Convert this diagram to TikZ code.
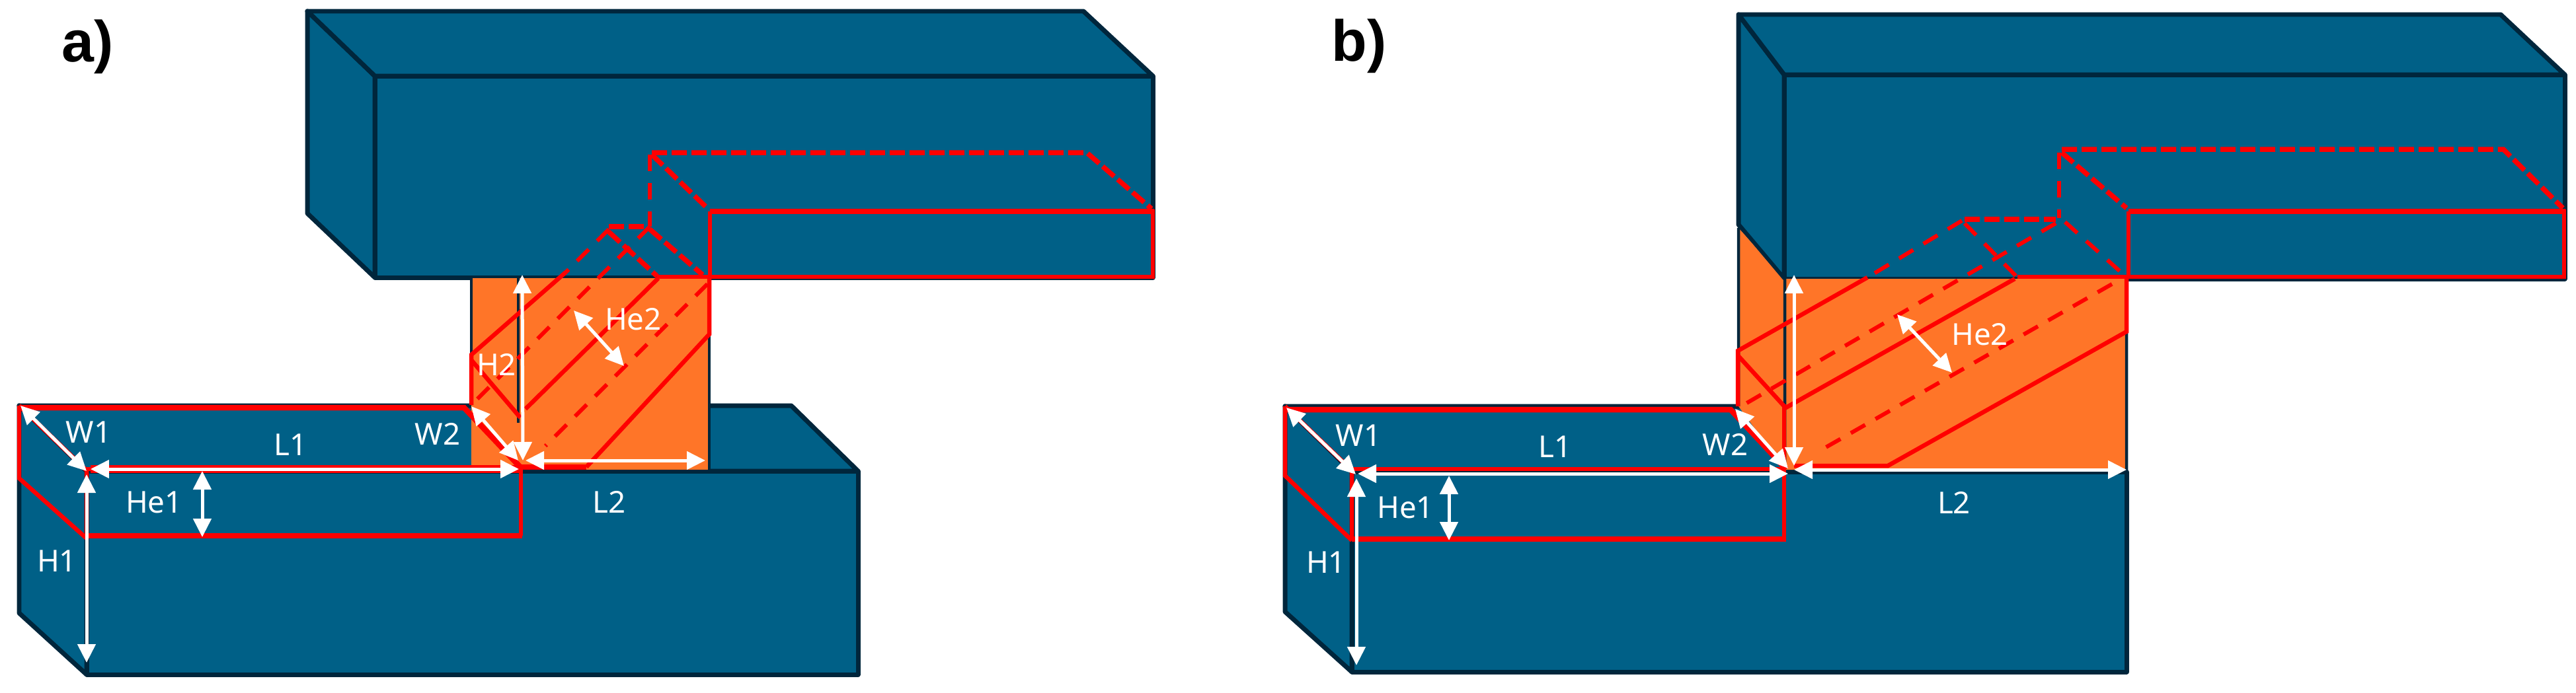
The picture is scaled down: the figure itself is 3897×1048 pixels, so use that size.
\documentclass[tikz,border=0pt]{standalone}
\usepackage{fontspec}
\setmainfont{Noto Sans}
\newfontfamily\tagfont{Liberation Sans}
\usetikzlibrary{arrows.meta}
\definecolor{bl}{HTML}{006087}
\definecolor{dk}{HTML}{00263C}
\definecolor{og}{HTML}{FF7528}
\definecolor{rd}{HTML}{FF0000}
\tikzset{
 face/.style={fill=bl,draw=dk,line width=0.14cm,line join=round},
 orange/.style={fill=og,draw=none},
 edge/.style={draw=dk,line width=0.09cm},
 redT/.style={draw=rd,line width=0.17cm,line join=miter},
 redM/.style={draw=rd,line width=0.13cm,line join=miter},
 dashT/.style={draw=rd,line width=0.15cm,dash pattern=on 0.46cm off 0.14cm},
 dashM/.style={draw=rd,line width=0.12cm,dash pattern=on 0.5cm off 0.36cm},
 dim/.style={draw=white,line width=0.1cm,{Triangle[length=0.56cm,width=0.54cm]}-{Triangle[length=0.56cm,width=0.54cm]}},
 lab/.style={text=white,inner sep=0pt,font=\fontsize{26}{30}\selectfont},
 tag/.style={text=black,inner sep=0pt,anchor=base west,font=\tagfont\fontsize{50}{56}\selectfont\bfseries}
}
\begin{document}
\begin{tikzpicture}[x=0.02cm,y=-0.02cm]
\useasboundingbox (0,0) rectangle (3897,1048);
% ---------- panel a
\path[face] (465,17)--(567,115)--(567,420)--(465,323)--cycle;
\path[face] (465,17)--(1639,17)--(1744,115)--(567,115)--cycle;
\path[face] (567,115)--(1744,115)--(1744,420)--(567,420)--cycle;
\path[face] (29,614)--(1197,614)--(1298,713)--(131,713)--cycle;
\path[face] (29,614)--(131,713)--(131,1021)--(29,928)--cycle;
\path[face] (131,713)--(1298,713)--(1298,1021)--(131,1021)--cycle;
\path[orange] (713,421) rectangle (1073,711);
\path[edge] (713,421)--(713,613) (1073,506)--(1073,711) (784,421)--(784,640);
% red, solid
\path[redT] (29,617)--(702,617)--(788,708);
\path[redT] (131,811)--(790,811);
\path[redM] (131,710)--(790,710);
\path[redM] (788,811)--(788,706);
\path[redM] (29,614)--(29,724)--(131,815);
\path[redM] (29,614)--(131,712) (131,712)--(131,811);
\path[redM] (1074,320)--(1744,320)--(1744,419)--(994,419);
\path[redM] (1074,320)--(1074,419);
\path[redT] (1074,320)--(1746,320);
\path[redM] (1073,419)--(1073,506)--(887,707);
\path[redT] (787,707)--(887,707);
\path[redM] (996,421)--(795,619);
\path[redM] (856,412)--(713,537)--(713,613);
\path[redM] (713,545)--(787,632);
% red, dashed
\path[dashT] (986,231)--(1644,231)--(1742,316);
\path[dashT] (986,234)--(1072,317);
\path[dashM] (983,234)--(983,343);
\path[dashT] (921,343)--(983,343);
\path[dashT] (983,347)--(1063,416);
\path[dashT] (921,351)--(994,418);
\path[dashM] (921,347)--(856,412);
\path[dashM] (983,343)--(713,613);
\path[dashM] (1070,430)--(825,675);
% dimensions
\coordinate (a1) at (31,614); \coordinate (a2) at (131,713);
\coordinate (a3) at (137,710); \coordinate (a4) at (785,710);
\coordinate (a5) at (131,718); \coordinate (a6) at (131,1003);
\coordinate (a7) at (306,713); \coordinate (a8) at (306,813);
\coordinate (a9) at (713,615); \coordinate (a10) at (784,697);
\coordinate (a11) at (791,697); \coordinate (a12) at (790,416);
\coordinate (a13) at (795,697); \coordinate (a14) at (1067,697);
\coordinate (a15) at (868,470); \coordinate (a16) at (944,554);
\draw[draw=rd,line width=0.24cm] (137,710)--(785,710);
\path[dim] (a1)--(a2);
\path[dim] (a3)--(a4);
\path[dim] (a5)--(a6);
\path[dim] (a7)--(a8);
\path[dim] (a9)--(a10);
\path[dim] (a11)--(a12);
\path[dim] (a13)--(a14);
\path[dim] (a15)--(a16);
\node[lab] (aW1) at (134,654) {W1};
\node[lab] (aL1) at (440,673) {L1};
\node[lab] (aW2) at (662,657) {W2};
\node[lab] (aHe1) at (233,760) {He1};
\node[lab] (aL2) at (922,760) {L2};
\node[lab] (aH1) at (86,849) {H1};
\node[lab] (aH2) at (751,552) {H2};
\node[lab] (aHe2) at (958,483) {He2};
\node[tag] (atag) at (93,93) {a)};
% ---------- panel b
\path[face] (2630,22)--(2699,113)--(2699,422)--(2630,340)--cycle;
\path[face] (2630,22)--(3783,22)--(3880,113)--(2699,113)--cycle;
\path[face] (2699,113)--(3880,113)--(3880,422)--(2699,422)--cycle;
\path[face] (1944,615)--(2650,615)--(2720,714)--(2045,714)--cycle;
\path[face] (1944,615)--(2045,714)--(2045,1017)--(1944,926)--cycle;
\path[face] (2045,714)--(3217,714)--(3217,1017)--(2045,1017)--cycle;
\path[orange] (2630,345)--(2699,422)--(3217,422)--(3217,711)--(2700,711)--(2630,615)--cycle;
\path[edge] (2630,340)--(2699,422) (2630,345)--(2630,615) (2700,422)--(2700,705) (3217,502)--(3217,714);
% red, solid
\path[redT] (1944,620)--(2618,620)--(2702,710);
\path[redT] (2045,816)--(2702,816);
\path[redM] (2045,710)--(2702,710);
\path[redM] (2699,816)--(2699,612);
\path[redM] (1944,615)--(1944,720)--(2045,818);
\path[redM] (1944,615)--(2045,712) (2045,712)--(2045,816);
\path[redM] (3220,320)--(3879,320)--(3879,419)--(3052,419);
\path[redM] (3220,320)--(3220,419);
\path[redT] (3220,320)--(3881,320);
\path[redM] (3217,419)--(3217,502)--(2856,705)--(2714,705);
\path[redM] (3048,422)--(2700,618);
\path[redM] (2825,420)--(2629,531)--(2629,615);
\path[redM] (2629,538)--(2702,618);
% red, dashed
\path[dashT] (3119,226)--(3787,226)--(3877,315);
\path[dashT] (3119,231)--(3217,315);
\path[dashM] (3115,231)--(3115,330);
\path[dashT] (2972,332)--(3110,332);
\path[dashM] (3124,336)--(3213,416);
\path[dashM] (2972,338)--(3052,420);
\path[dashM] (2968,334)--(2825,420);
\path[dashM] (3110,338)--(2634,615);
\path[dashM] (3195,430)--(2750,684);
% dimensions
\coordinate (b1) at (1946,617); \coordinate (b2) at (2051,718);
\coordinate (b3) at (2054,717); \coordinate (b4) at (2705,717);
\coordinate (b5) at (2052,724); \coordinate (b6) at (2052,1007);
\coordinate (b7) at (2192,720); \coordinate (b8) at (2192,818);
\coordinate (b9) at (2625,619); \coordinate (b10) at (2705,709);
\coordinate (b11) at (2714,705); \coordinate (b12) at (2714,416);
\coordinate (b13) at (2714,711); \coordinate (b14) at (3217,711);
\coordinate (b15) at (2870,476); \coordinate (b16) at (2953,564);
\path[dim] (b1)--(b2);
\path[dim] (b3)--(b4);
\path[dim] (b5)--(b6);
\path[dim] (b7)--(b8);
\path[dim] (b9)--(b10);
\path[dim] (b11)--(b12);
\path[dim] (b13)--(b14);
\path[dim] (b15)--(b16);
\node[lab] (bW1) at (2055,659) {W1};
\node[lab] (bL1) at (2353,676) {L1};
\node[lab] (bW2) at (2610,673) {W2};
\node[lab] (bHe1) at (2126,768) {He1};
\node[lab] (bL2) at (2956,761) {L2};
\node[lab] (bH1) at (2006,851) {H1};
\node[lab] (bHe2) at (2995,506) {He2};
\node[tag] (btag) at (2014,92) {b)};
\end{tikzpicture}
\end{document}
